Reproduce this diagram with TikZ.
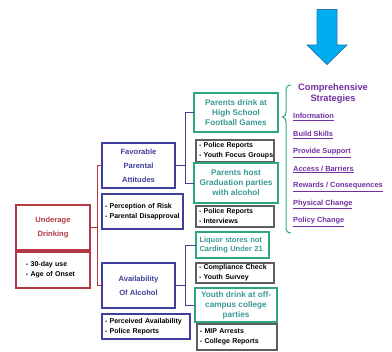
\documentclass[tikz,border=0pt]{standalone}
\usepackage{fontspec}
\setmainfont{Liberation Sans}
\definecolor{ured}{HTML}{B23A45}
\definecolor{ublue}{HTML}{40409C}
\definecolor{ugreen}{HTML}{2FA77E}
\definecolor{uteal}{HTML}{3A9A94}
\definecolor{ugray}{HTML}{5E5E5E}
\definecolor{upurple}{HTML}{7030A0}
\definecolor{arrowfill}{HTML}{00AEEF}
\definecolor{arrowline}{HTML}{2E75B6}
\begin{document}
\begin{tikzpicture}[x=1pt,y=-1pt,
  box/.style={draw, line width=1.7, fill=white, inner sep=1.5, outer sep=0},
  headfont/.style={font=\fontsize{7.6}{14}\selectfont\bfseries, align=center},
  % lists: fixed box width (#1), text starting near the left edge
  listfont/.style={font=\fontsize{7}{10}\selectfont\bfseries, align=left, text=black, inner xsep=2},
  tw/.style={minimum width=#1, text width=#1-6},
  redbox/.style={box, draw=ured, headfont, text=ured},
  redlist/.style={box, draw=ured, listfont},
  bluebox/.style={box, draw=ublue, headfont, text=ublue},
  bluelist/.style={box, draw=ublue, listfont},
  greenbox/.style={box, draw=ugreen, font=\fontsize{8.2}{10}\selectfont\bfseries, align=center, text=uteal},
  graybox/.style={box, draw=ugray, listfont},
  redline/.style={draw=ured, line width=0.9},
  blueline/.style={draw=ublue, line width=0.9},
  strat/.style={font=\fontsize{7.4}{9}\selectfont\bfseries, text=upurple, anchor=west, inner sep=0}
]
\useasboundingbox (0,0) rectangle (392,352);

% problem and its measures
\node[redbox, minimum width=74, minimum height=45] (ud) at (53,227.5) {Underage\\Drinking};
\node[redlist, inner xsep=9, minimum width=74, text width=54, minimum height=36] (udm) at (53,270) {\mbox{- 30-day use}\\\mbox{- Age of Onset}};

% intervening variables
\node[bluebox, minimum width=73, minimum height=45] (fpa) at (138.5,165.5) {Favorable\\Parental\\Attitudes};
\node[bluelist, tw=81, minimum height=35] (fpam) at (142.5,211.5) {\mbox{- Perception of Risk}\\\mbox{- Parental Disapproval}};
\node[bluebox, minimum width=73, minimum height=45] (aoa) at (138.5,285.5) {Availability\\Of Alcohol};
\node[bluelist, tw=88, minimum height=25] (aoam) at (146,326.5) {\mbox{- Perceived Availability}\\\mbox{- Police Reports}};

% local conditions and their data sources
\node[greenbox, minimum width=84, minimum height=39] (g1) at (236,112.5) {Parents drink at\\High School\\Football Games};
\node[graybox, tw=78, minimum height=22] (r1) at (235,151) {\mbox{- Police Reports}\\\mbox{- Youth Focus Groups}};
\node[greenbox, minimum width=84, minimum height=40] (g2) at (236,183) {Parents host\\Graduation parties\\with alcohol};
\node[graybox, tw=78, minimum height=21] (r2) at (235,216.5) {\mbox{- Police Reports}\\\mbox{- Interviews}};
\node[greenbox, font=\fontsize{7.5}{9}\selectfont\bfseries, minimum width=73, text width=66, minimum height=26, align=left] (g3) at (232.5,245) {\mbox{Liquor stores not}\\\mbox{Carding Under 21}};
\node[graybox, tw=78, minimum height=20] (r3) at (235,273) {\mbox{- Compliance Check}\\\mbox{- Youth Survey}};
\node[greenbox, minimum width=82, minimum height=34] (g4) at (236,305) {Youth drink at off-\\campus college\\parties};
\node[graybox, tw=80, minimum height=26] (r4) at (237,337) {\mbox{- MIP Arrests}\\\mbox{- College Reports}};

% tree connectors
\coordinate (rx) at (97,0);
\coordinate (bx) at (185,0);
\draw[redline] (ud.east) -- (ud.east -| rx);
\draw[redline] (fpa.west) -- (fpa.west -| rx) -- (aoa.west -| rx) -- (aoa.west);
\draw[blueline] (fpa.east) -- (fpa.east -| bx);
\draw[blueline] (g1.west) -- (g1.west -| bx) -- (g2.west -| bx) -- (g2.west);
\draw[blueline] (aoa.east) -- (aoa.east -| bx);
\draw[blueline] (g3.west) -- (g3.west -| bx) -- (g4.west -| bx) -- (g4.west);

% brace gathering the strategies
\draw[ugreen, line width=1] (291,85) .. controls (287.5,85) and (286,87) .. (286,91) -- (286,112)
  .. controls (286,115) and (284.5,117) .. (282.5,117) .. controls (284.5,117) and (286,119) .. (286,122)
  -- (286,227) .. controls (286,231) and (287.5,233) .. (291,233);

% strategies list
\node[font=\fontsize{9.3}{11}\selectfont\bfseries, text=upurple, align=center, inner sep=0] (cs) at (333,93.5) {Comprehensive\\Strategies};
\node[strat] (s1) at (293,117) {\underline{Information}};
\node[strat] (s2) at (293,135) {\underline{Build Skills}};
\node[strat] (s3) at (293,153) {\underline{Provide Support}};
\node[strat] (s4) at (293,169.5) {\underline{Access / Barriers}};
\node[strat] (s5) at (293,187) {\underline{Rewards / Consequences}};
\node[strat] (s6) at (293,204.5) {\underline{Physical Change}};
\node[strat] (s7) at (293,222) {\underline{Policy Change}};

% block arrow
\draw[fill=arrowfill, draw=arrowline, line width=0.8, line join=miter]
  (317,9.5) -- (337,9.5) -- (337,45) -- (347,45) -- (327,64.5) -- (307,45) -- (317,45) -- cycle;
\end{tikzpicture}
\end{document}
